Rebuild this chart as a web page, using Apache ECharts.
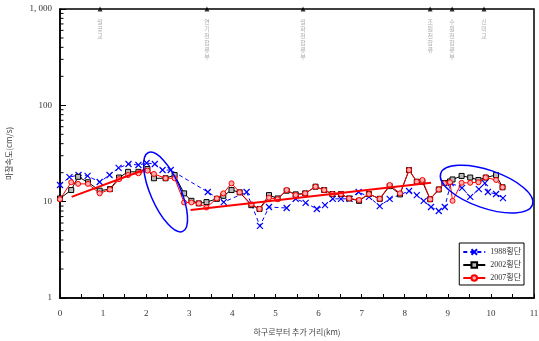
<!DOCTYPE html>
<html><head><meta charset="utf-8">
<script src="https://cdn.jsdelivr.net/npm/echarts@6/dist/echarts.min.js"></script>
<style>html,body{margin:0;padding:0;background:#fff}#c{width:539px;height:341px}</style>
</head><body><div id="c"></div>
<script>
// ---- data ----
const xKm1988 = [0.0,0.22,0.43,0.64,0.92,1.15,1.36,1.59,1.82,2.01,2.20,2.38,2.57,3.43,3.80,4.33,4.64,4.85,5.26,5.47,5.70,5.96,6.15,6.33,6.52,6.72,6.93,7.17,7.42,7.65,8.10,8.28,8.44,8.61,8.79,8.93,9.07,9.33,9.52,9.72,9.86,9.93,10.12,10.28];
const v1988 = [14.9,18.0,18.9,18.5,16.0,18.9,22.4,24.6,24.0,25.2,24.6,21.3,21.3,12.6,9.9,12.6,5.6,8.8,8.6,10.7,9.7,8.4,9.2,10.7,10.7,10.7,12.6,11.2,9.0,10.7,12.9,11.7,10.2,8.8,8.0,8.8,15.6,13.9,11.2,13.5,15.6,12.6,12.0,10.9];
const xKmSection = [0.0,0.26,0.42,0.65,0.92,1.16,1.37,1.58,1.82,2.03,2.18,2.45,2.66,2.88,3.05,3.22,3.40,3.64,3.79,3.98,4.17,4.44,4.63,4.85,5.05,5.26,5.47,5.69,5.93,6.13,6.32,6.52,6.71,6.94,7.17,7.42,7.65,7.89,8.10,8.28,8.41,8.59,8.79,8.92,9.05,9.11,9.32,9.52,9.71,9.88,10.12,10.27];
const v2002 = [10.8,13.2,18.1,15.9,13.0,13.5,17.8,20.4,20.4,21.8,17.5,17.5,18.9,12.2,10.2,9.6,9.9,10.7,11.5,13.2,12.5,9.2,8.4,11.7,10.8,13.0,11.9,12.2,14.3,13.2,12.0,12.0,10.8,10.2,12.0,10.7,14.5,11.9,21.3,16.1,16.1,10.6,13.4,15.6,16.2,17.0,18.5,17.8,16.8,17.8,18.9,14.1];
const v2007 = [10.6,15.9,15.3,15.3,12.2,13.4,17.1,18.9,19.7,21.0,19.4,17.5,17.5,9.8,9.8,9.6,8.7,10.8,12.2,15.5,12.5,9.4,8.4,11.0,10.6,13.2,11.7,12.2,14.3,13.2,12.0,12.0,10.8,10.4,12.0,10.7,14.9,12.2,21.3,16.1,16.8,10.6,13.4,15.5,15.9,10.2,15.7,15.7,15.9,17.8,16.8,14.1];
const trend1X = [0.27,1.99];
const trend1V = [11.2,21.7];
const trend2X = [3.03,8.61];
const trend2V = [8.2,15.7];
const stationKm = [0.93,3.41,5.64,8.59,9.10,9.84];
const stationNames = ['월곶교','연기천합류부','월화천합류부','조원천합류','수원천합류부','신미교'];
const ellipseKm = [2.45,9.90];
const ellipseV = [12.6,13.5];
const yTickLabels = {1:'1',10:'10',100:'100',1000:'1, 000'};
const minorTickValues = [2,3,4,5,6,7,8,9,20,30,40,50,60,70,80,90,200,300,400,500,600,700,800,900];
const seriesNames = ['1988횡단','2002횡단','2007횡단'];

const zip = (xs, vs) => xs.map((x,i)=>[x, vs[i]]);
const serif = "'Liberation Serif','Noto Sans CJK KR',serif";
const kr = "'Noto Sans CJK KR',sans-serif";
const X_SYM = 'path://M0,0L10,10M10,0L0,10';

const chart = echarts.init(document.getElementById('c'), null, {renderer:'canvas'});
const option = {
  animation:false,
  backgroundColor:'#fff',
  grid:{left:60, right:5, top:9, bottom:43, show:true, borderColor:'#000', borderWidth:1.5,
        backgroundColor:'transparent', containLabel:false, outerBoundsMode:'none'},
  legend:{
    data:seriesNames, orient:'vertical', right:15, top:243,
    backgroundColor:'#fff', borderColor:'#000', borderWidth:1, padding:[5,3,3,3],
    itemWidth:22, itemHeight:7, itemGap:5,
    textStyle:{fontFamily:serif, fontSize:8, color:'#333'}
  },
  xAxis:{
    type:'value', min:0, max:11, interval:1,
    name:'하구로부터 추가 거리(km)', nameLocation:'middle', nameGap:30,
    nameTextStyle:{fontFamily:kr, fontSize:8, color:'#444'},
    axisLine:{show:true, onZero:false, lineStyle:{color:'#000', width:1.5}},
    axisTick:{show:true, inside:true, length:4, lineStyle:{color:'#000'}},
    minorTick:{show:true, splitNumber:2, length:4, lineStyle:{color:'#000'}},
    axisLabel:{fontFamily:serif, fontSize:9, color:'#333', margin:11},
    splitLine:{show:false}
  },
  yAxis:{
    type:'log', logBase:10, min:1, max:1000,
    name:'마찰속도(cm/s)', nameLocation:'middle', nameGap:47,
    nameTextStyle:{fontFamily:kr, fontSize:8, color:'#444'},
    axisLine:{show:true, lineStyle:{color:'#000', width:1.5}},
    axisTick:{show:true, inside:true, length:6, lineStyle:{color:'#000'}},
    axisLabel:{fontFamily:serif, fontSize:9, color:'#333', margin:8,
      formatter:v=>yTickLabels[Math.round(v)] || ''},
    splitLine:{show:false}
  },
  series:[
    {name:seriesNames[0], type:'line', data:zip(xKm1988,v1988),
     symbol:X_SYM, symbolSize:6,
     lineStyle:{color:'#0000ff', width:1, type:[4,3]},
     itemStyle:{color:'#0000ff', borderColor:'#0000ff', borderWidth:1.2}, z:3},
    {name:seriesNames[1], type:'line', data:zip(xKmSection,v2002),
     symbol:'rect', symbolSize:5,
     lineStyle:{color:'#000', width:1},
     itemStyle:{color:'#bbb', borderColor:'#000', borderWidth:1}, z:4},
    {name:seriesNames[2], type:'line', data:zip(xKmSection,v2007),
     symbol:'circle', symbolSize:5,
     lineStyle:{color:'#ff0000', width:1},
     itemStyle:{color:'#ffb0b0', borderColor:'#ff0000', borderWidth:1}, z:5},
    {name:'trend1', type:'line', data:zip(trend1X,trend1V), symbol:'none',
     lineStyle:{color:'#ff0000', width:2}, z:6},
    {name:'trend2', type:'line', data:zip(trend2X,trend2V), symbol:'none',
     lineStyle:{color:'#ff0000', width:2}, z:6},
    {name:'stations', type:'scatter', data:stationKm.map((k,i)=>({value:[k,1000], name:stationNames[i]})),
     symbol:'triangle', symbolSize:[5,5], itemStyle:{color:'#000'}, clip:false, z:7,
     label:{show:true, position:'bottom', distance:7, fontFamily:kr, fontSize:6, lineHeight:7, color:'#999',
       formatter:p=>p.name.split('').join('\n')}},
    {name:'minorTicks', type:'custom', data:minorTickValues.map(v=>[0,v]), clip:false, z:8, silent:true,
     renderItem:(params, api)=>{
       const p = api.coord([0, api.value(1)]);
       return {type:'line', shape:{x1:p[0], y1:p[1], x2:p[0]+3.5, y2:p[1]}, style:{stroke:'#000', lineWidth:1}};
     }}
  ]
};
chart.setOption(option);

const ellipseStyle = [
  {rx:15, ry:43, rotation:0.41},
  {rx:48.5, ry:19, rotation:-0.33}
];
const graphics = ellipseKm.map((k,i)=>{
  const c = chart.convertToPixel({gridIndex:0}, [k, ellipseV[i]]);
  return {type:'ellipse', x:c[0], y:c[1], rotation:ellipseStyle[i].rotation,
    shape:{cx:0, cy:0, rx:ellipseStyle[i].rx, ry:ellipseStyle[i].ry},
    style:{fill:'none', stroke:'#0000ff', lineWidth:1.5}, z:10};
});
chart.setOption({graphic:graphics});
</script></body></html>
